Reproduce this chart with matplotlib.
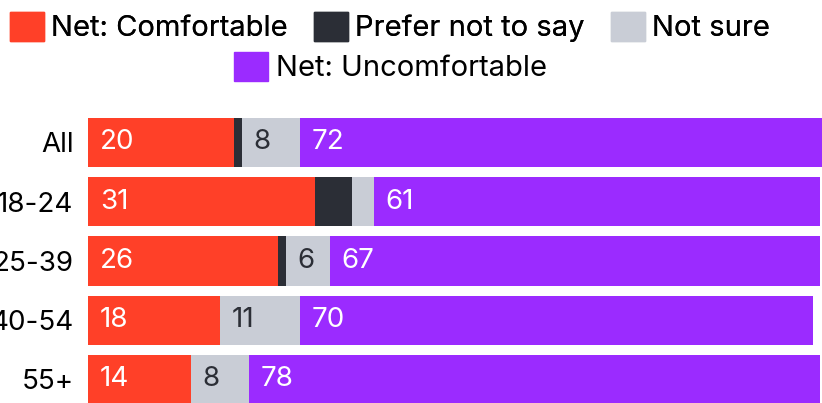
import matplotlib.pyplot as plt
from matplotlib.patches import Patch
import numpy as np

plt.rcParams['font.family'] = ['Inter', 'DejaVu Sans']

# Data
groups = ['All', '18-24', '25-39', '40-54', '55+']
comfortable = [20, 31, 26, 18, 14]
prefer_not = [1, 5, 1, 0, 0]
not_sure = [8, 3, 6, 11, 8]
uncomfortable = [72, 61, 67, 70, 78]

series = [
    ('Net: Comfortable', comfortable, '#ff4028', 'white'),
    ('Prefer not to say', prefer_not, '#2b2e36', None),
    ('Not sure', not_sure, '#c9cdd6', '#2b2e36'),
    ('Net: Uncomfortable', uncomfortable, '#9b2bff', 'white'),
]

fig = plt.figure(figsize=(8.22, 4.03), dpi=100)
ax = fig.add_axes([0.1071, -0.015, 0.8905, 0.735])

y = np.arange(len(groups))
left = np.zeros(len(groups))
for name, vals, color, txtcolor in series:
    vals = np.array(vals, dtype=float)
    ax.barh(y, vals, left=left, height=0.83, color=color, label=name, clip_on=False)
    if txtcolor:
        for yi, l, v in zip(y, left, vals):
            # small segments get no label
            if v >= 4:
                ax.text(l + 1.6, yi, f'{int(v)}', color=txtcolor, fontsize=20,
                        va='center', ha='left')
    left += vals

ax.set_xlim(0, 100)
ax.set_ylim(4.5, -0.5)
ax.set_yticks(y)
ax.set_yticklabels(groups, fontsize=20)
ax.tick_params(axis='y', length=0, pad=10.5)
ax.set_xticks([])
for s in ax.spines.values():
    s.set_visible(False)

handles = [Patch(color=c, label=n) for n, _, c, _ in series]
kw = dict(frameon=False, fontsize=21, handlelength=1.16, handleheight=1.16,
          handletextpad=0.25, borderpad=0, borderaxespad=0)
leg1 = fig.legend(handles=handles[:3], loc='center', bbox_to_anchor=(0.4745, 0.933), ncol=3,
                  columnspacing=0.9, **kw)
fig.add_artist(leg1)
fig.legend(handles=handles[3:], loc='center', bbox_to_anchor=(0.475, 0.834), ncol=1, **kw)

fig.savefig('out.png', dpi=100)
